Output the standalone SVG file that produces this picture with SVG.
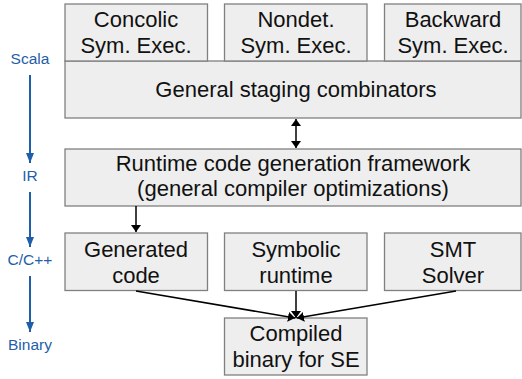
<svg xmlns="http://www.w3.org/2000/svg" width="522" height="379" viewBox="0 0 522 379">
<defs>
<style>
.box{fill:#eeeeee;stroke:#808080;stroke-width:1.3}
.t{font-family:"Liberation Sans",Arial,sans-serif;font-size:22px;fill:#111;text-anchor:middle}
.lbl{font-family:"Liberation Sans",Arial,sans-serif;font-size:15.5px;fill:#1f5ea8;text-anchor:middle}
.c{stroke:#000;stroke-width:1.5;fill:none}
.b{stroke:#1f5ea8;stroke-width:2;fill:none}
</style>
<marker id="ah" viewBox="0 0 10 10" refX="10" refY="5" markerWidth="7" markerHeight="10" orient="auto-start-reverse" markerUnits="userSpaceOnUse" preserveAspectRatio="none">
<path d="M0,0 L10,5 L0,10 z" fill="#000"/>
</marker>
<marker id="bh" viewBox="0 0 10 10" refX="10" refY="5" markerWidth="10" markerHeight="8" orient="auto" markerUnits="userSpaceOnUse" preserveAspectRatio="none">
<path d="M0,0 L10,5 L0,10 z" fill="#1f5ea8"/>
</marker>
</defs>
<g id="staging"><rect class="box" x="65" y="61" width="456" height="57"/><text class="t" x="296" y="97">General staging combinators</text></g>
<g id="concolic"><rect class="box" x="65" y="4" width="142.5" height="57"/><text class="t" x="136" y="27">Concolic</text><text class="t" x="136" y="53">Sym. Exec.</text></g>
<g id="nondet"><rect class="box" x="224.5" y="4" width="142.5" height="57"/><text class="t" x="296" y="27">Nondet.</text><text class="t" x="296" y="53">Sym. Exec.</text></g>
<g id="backward"><rect class="box" x="384.5" y="4" width="136.5" height="57"/><text class="t" x="453" y="27">Backward</text><text class="t" x="453" y="53">Sym. Exec.</text></g>
<g id="runtime"><rect class="box" x="65" y="149" width="456" height="57"/><text class="t" x="293" y="171">Runtime code generation framework</text><text class="t" x="293" y="196">(general compiler optimizations)</text></g>
<g id="generated"><rect class="box" x="65" y="233" width="142.5" height="57.5"/><text class="t" x="136" y="257">Generated</text><text class="t" x="136" y="283">code</text></g>
<g id="symbolic"><rect class="box" x="224.5" y="233" width="142.5" height="57.5"/><text class="t" x="296" y="257">Symbolic</text><text class="t" x="296" y="283">runtime</text></g>
<g id="smt"><rect class="box" x="384.5" y="233" width="136.5" height="57.5"/><text class="t" x="453" y="257">SMT</text><text class="t" x="453" y="283">Solver</text></g>
<g id="compiled"><rect class="box" x="224.5" y="318" width="142.5" height="57"/><text class="t" x="296" y="341">Compiled</text><text class="t" x="296" y="367">binary for SE</text></g>
<g id="connectors">
<line class="c" x1="296" y1="119" x2="296" y2="148" marker-start="url(#ah)" marker-end="url(#ah)"/>
<line class="c" x1="136" y1="206" x2="136" y2="232" marker-end="url(#ah)"/>
<line class="c" x1="136" y1="291" x2="295" y2="318" marker-end="url(#ah)"/>
<line class="c" x1="296" y1="291" x2="296" y2="318" marker-end="url(#ah)"/>
<line class="c" x1="456" y1="291" x2="297" y2="318" marker-end="url(#ah)"/>
</g>
<g id="levels">
<text class="lbl" x="30" y="64">Scala</text>
<line class="b" x1="30" y1="75" x2="30" y2="163" marker-end="url(#bh)"/>
<text class="lbl" x="30" y="181">IR</text>
<line class="b" x1="30" y1="192" x2="30" y2="247" marker-end="url(#bh)"/>
<text class="lbl" x="30" y="265">C/C++</text>
<line class="b" x1="30" y1="276" x2="30" y2="332" marker-end="url(#bh)"/>
<text class="lbl" x="30" y="350">Binary</text>
</g>
</svg>
